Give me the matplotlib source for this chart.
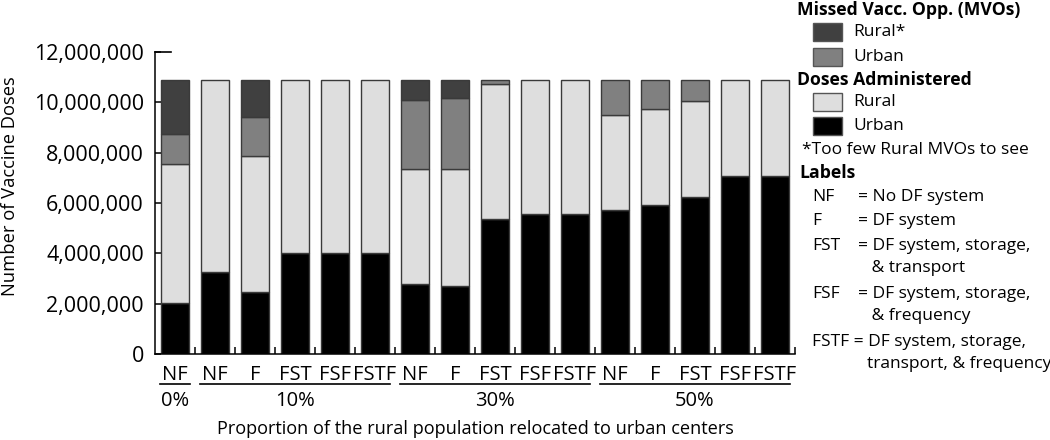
import matplotlib
matplotlib.use('Agg')
import matplotlib.pyplot as plt
import matplotlib.transforms as mtransforms
from matplotlib.patches import Rectangle
import numpy as np

plt.rcParams['font.family'] = ['Open Sans', 'DejaVu Sans']

# values in millions of doses, one entry per bar
groups = ['0%', '10%', '30%', '50%']
group_sizes = [1, 5, 5, 5]
bar_labels = ['NF',
              'NF', 'F', 'FST', 'FSF', 'FSTF',
              'NF', 'F', 'FST', 'FSF', 'FSTF',
              'NF', 'F', 'FST', 'FSF', 'FSTF']
urban_doses = [2.04, 3.27, 2.48, 4.02, 4.02, 4.02, 2.80, 2.71, 5.38, 5.55, 5.55, 5.72, 5.92, 6.24, 7.08, 7.08]
rural_doses = [5.52, 7.61, 5.40, 6.86, 6.86, 6.86, 4.56, 4.65, 5.34, 5.33, 5.33, 3.77, 3.80, 3.81, 3.80, 3.80]
urban_mvo = [1.19, 0, 1.53, 0, 0, 0, 2.73, 2.83, 0.16, 0, 0, 1.39, 1.16, 0.83, 0, 0]
rural_mvo = [2.13, 0, 1.47, 0, 0, 0, 0.79, 0.69, 0, 0, 0, 0, 0, 0, 0, 0]

def_labels = [('NF', '= No DF system'),
              ('F', '= DF system'),
              ('FST', '= DF system, storage,'),
              ('', '   & transport'),
              ('FSF', '= DF system, storage,'),
              ('', '   & frequency')]

c_rmvo = '#404040'
c_umvo = '#808080'
c_rdose = '#dedede'
c_udose = '#000000'

fig = plt.figure(figsize=(10.5, 4.4), dpi=100)
ax = fig.add_axes([155/1050., 86/440., 640/1050., 302/440.])

x = np.arange(len(bar_labels))
w = 0.71
series = [(urban_doses, c_udose), (rural_doses, c_rdose), (urban_mvo, c_umvo), (rural_mvo, c_rmvo)]
bottom = np.zeros(len(x))
for vals, col in series:
  v = np.array(vals) * 1e6
  edges = ['#3a3a3a' if vv > 0 else 'none' for vv in v]
  ax.bar(x, v, w, bottom=bottom, color=col, edgecolor=edges, linewidth=1.0, zorder=2)
  bottom += v

ax.set_xlim(-0.5, len(x) - 0.5)
ax.set_ylim(0, 12e6)
yt = np.arange(0, 12.1e6, 2e6)
ax.set_yticks(yt)
ax.set_yticklabels(['{:,}'.format(int(t)) for t in yt], fontsize=15.5)
ax.tick_params(axis='y', direction='in', length=4, width=1.1, pad=8)
ax.axhline(12e6, xmin=0, xmax=0.025, color='k', lw=1.2, clip_on=False)

ax.set_xticks(np.arange(0.5, len(x), 1.0))
ax.set_xticklabels([])
ax.tick_params(axis='x', which='major', direction='in', length=5, width=1.1)
ax.set_xticks(x, minor=True)
ax.set_xticklabels(bar_labels, minor=True, fontsize=14.5)
ax.tick_params(axis='x', which='minor', length=0, pad=8)

for s in ['top', 'right']:
  ax.spines[s].set_visible(False)
for s in ['left', 'bottom']:
  ax.spines[s].set_linewidth(1.1)

ax.set_ylabel('Number of Vaccine Doses', fontsize=13.2)
ax.yaxis.set_label_coords(-0.212, 0.555)

# group brackets under the category labels
trans = mtransforms.blended_transform_factory(ax.transData, ax.transAxes)
start = 0
for g, n in zip(groups, group_sizes):
  x0 = start - 0.38
  x1 = start + n - 1 + 0.38
  ax.plot([x0, x1], [-0.099, -0.099], color='k', lw=1.2, transform=trans, clip_on=False)
  ax.text((x0 + x1) / 2., -0.157, g, transform=trans, ha='center', va='center', fontsize=14.5)
  start += n

ax.text(0.5, -0.248, 'Proportion of the rural population relocated to urban centers',
        transform=ax.transAxes, ha='center', va='center', fontsize=13.1)

# legend drawn on the right side
def fy(py):
  return 1 - py / 440.

def fx(px):
  return px / 1050.

fs = 12.5
fig.text(fx(797), fy(10), 'Missed Vacc. Opp. (MVOs)', fontsize=12.7, fontweight='bold', va='center')
leg_items = [(32, c_rmvo, 'Rural*'), (57, c_umvo, 'Urban'), (102, c_rdose, 'Rural'), (126, c_udose, 'Urban')]
for py, col, lab in leg_items:
  fig.patches.append(Rectangle((fx(813), fy(py + 9)), 29/1050., 18/440., transform=fig.transFigure,
                               facecolor=col, edgecolor='#555555', lw=1.0))
  fig.text(fx(853), fy(py), lab, fontsize=fs, va='center')
fig.text(fx(797), fy(80), 'Doses Administered', fontsize=12.7, fontweight='bold', va='center')
fig.text(fx(802), fy(150), '*Too few Rural MVOs to see', fontsize=fs, va='center')
fig.text(fx(799), fy(173), 'Labels', fontsize=12.7, fontweight='bold', va='center')

rows_y = [197, 221, 246, 268, 294, 316]
for py, (abbr, desc) in zip(rows_y, def_labels):
  if abbr:
    fig.text(fx(812), fy(py), abbr, fontsize=fs, va='center')
  fig.text(fx(858), fy(py), desc, fontsize=fs, va='center')
fig.text(fx(812), fy(342), 'FSTF = DF system, storage,', fontsize=fs, va='center')
fig.text(fx(867), fy(364), 'transport, & frequency', fontsize=fs, va='center')

plt.savefig('out.png', dpi=100)
